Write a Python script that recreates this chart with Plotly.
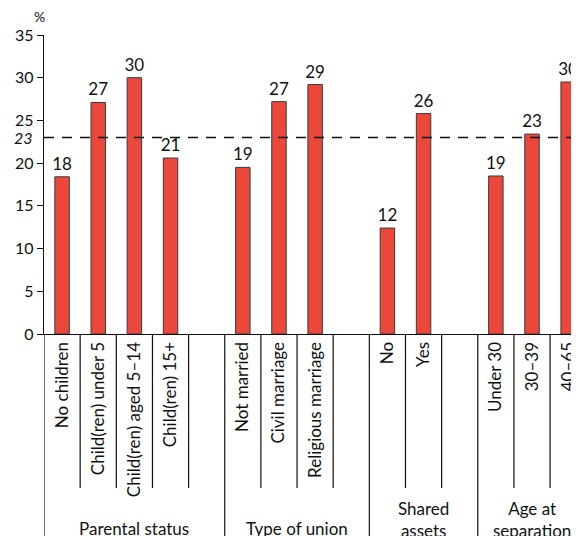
import plotly.graph_objects as go

# ---- data ----
group_names = ["Parental status", "Type of union", "Shared<br>assets", "Age at<br>separation"]
parental_cats = ["No children", "Child(ren) under 5", "Child(ren) aged 5–14", "Child(ren) 15+"]
parental_vals = [18.4, 27.1, 30.0, 20.6]
parental_lbls = ["18", "27", "30", "21"]
union_cats = ["Not married", "Civil marriage", "Religious marriage"]
union_vals = [19.5, 27.2, 29.2]
union_lbls = ["19", "27", "29"]
assets_cats = ["No", "Yes"]
assets_vals = [12.4, 25.8]
assets_lbls = ["12", "26"]
age_cats = ["Under 30", "30–39", "40–65"]
age_vals = [18.5, 23.4, 29.5]
age_lbls = ["19", "23", "30"]
average_value = 23
y_ticks = [0, 5, 10, 15, 20, 25, 30, 35]

groups = [
    (parental_cats, parental_vals, parental_lbls, True),
    (union_cats, union_vals, union_lbls, True),
    (assets_cats, assets_vals, assets_lbls, True),
    (age_cats, age_vals, age_lbls, False),
]

FONT = "Lato"
xs, vals, lbls, ticktext = [], [], [], []
group_bounds = []
pos = 0
for cats, v, l, gap in groups:
    start = pos
    for c, vv, ll in zip(cats, v, l):
        xs.append(pos)
        vals.append(vv)
        lbls.append(ll)
        ticktext.append(c)
        pos += 1
    if gap:
        pos += 1
    group_bounds.append((start - 0.5, pos - 0.5))

fig = go.Figure()
fig.add_trace(go.Bar(
    x=xs, y=vals, width=0.4,
    marker=dict(color="#EB483B", line=dict(color="#3a3a3a", width=1)),
    text=lbls, textposition="outside", constraintext="none", cliponaxis=False,
    textfont=dict(family=FONT, size=17, color="#111"),
    hoverinfo="skip",
))

shapes = []
# dashed average line
shapes.append(dict(type="line", xref="paper", yref="y", x0=0, x1=1,
                   y0=average_value, y1=average_value,
                   line=dict(color="#111", width=1.3, dash="10px,8px"), layer="above"))
# separators below the axis
group_edges = set(a for a, b in group_bounds)
for i in range(pos):
    bx = i - 0.5
    y1 = -1.05 if bx in group_edges else -0.515
    shapes.append(dict(type="line", xref="x", yref="paper", x0=bx, x1=bx,
                       y0=0, y1=y1, line=dict(color="#111", width=1.2)))

annotations = []
for (a, b), name in zip(group_bounds, group_names):
    annotations.append(dict(x=(a + b) / 2, xref="x", y=-0.62 if "<br>" in name else -0.65,
                            yref="paper", text=name, showarrow=False,
                            yanchor="middle", font=dict(family=FONT, size=17, color="#111")))
annotations.append(dict(x=0, xref="paper", y=1.0, yref="paper", text="%", showarrow=False,
                        xanchor="right", yanchor="bottom", xshift=3, yshift=8,
                        font=dict(family=FONT, size=14, color="#111")))
annotations.append(dict(x=0, xref="paper", y=average_value, yref="y", text="<i>23</i>",
                        showarrow=False, xanchor="right", xshift=-9,
                        font=dict(family=FONT, size=16, color="#111")))

# page body adds an 8px offset, so the figure is 8px smaller than the window
fig.update_layout(
    width=571, height=528,
    margin=dict(l=36, r=0, t=27, b=202),
    plot_bgcolor="white", paper_bgcolor="white",
    showlegend=False, shapes=shapes, annotations=annotations,
    font=dict(family=FONT, color="#111"),
    xaxis=dict(range=[-0.5, 14.3], tickmode="array", tickvals=xs, ticktext=ticktext,
               tickangle=-90, showline=True, linecolor="#111", linewidth=1.3,
               ticks="", showgrid=False, zeroline=False, automargin=False,
               tickfont=dict(family=FONT, size=17, color="#111")),
    yaxis=dict(range=[0, 35], tickvals=y_ticks, showline=True, linecolor="#111",
               linewidth=1.3, ticks="outside", ticklen=6, tickcolor="#111",
               showgrid=False, zeroline=False, automargin=False,
               tickfont=dict(family=FONT, size=16, color="#111")),
)

fig.write_html("out.html")
